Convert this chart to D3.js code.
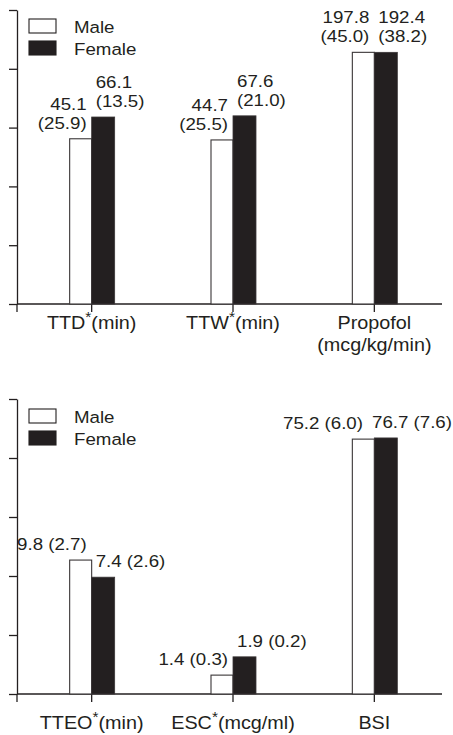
<!DOCTYPE html>
<html>
<head>
<meta charset="utf-8">
<style>
  body { margin: 0; background: #fff; }
  svg { display: block; }
  text { font-family: "Liberation Sans", Arial, sans-serif; fill: #231f20; }
</style>
</head>
<body>
<svg width="453" height="735"></svg>
<script src="https://cdn.jsdelivr.net/npm/d3@7"></script>
<script>

// top panel
var topCats = ["TTD", "TTW", "Propofol"];
var topMale = [2.81, 2.79, 4.28];      // bar heights in axis units (axis is unlabelled)
var topFemale = [3.18, 3.20, 4.28];
var topMaleText = [["45.1", "(25.9)"], ["44.7", "(25.5)"], ["197.8", "(45.0)"]];
var topFemaleText = [["66.1", "(13.5)"], ["67.6", "(21.0)"], ["192.4", "(38.2)"]];
var topCatLabels = [["TTD", "*", "(min)"], ["TTW", "*", "(min)"], ["Propofol", "", "", "(mcg/kg/min)"]];

// bottom panel
var botCats = ["TTEO", "ESC", "BSI"];
var botMale = [2.27, 0.32, 4.32];
var botFemale = [1.98, 0.63, 4.34];
var botMaleText = [["9.8 (2.7)"], ["1.4 (0.3)"], ["75.2 (6.0)"]];
var botFemaleText = [["7.4 (2.6)"], ["1.9 (0.2)"], ["76.7 (7.6)"]];
var botCatLabels = [["TTEO", "*", "(min)"], ["ESC", "*", "(mcg/ml)"], ["BSI", "", ""]];

var yTicks = [0, 1, 2, 3, 4, 5];
var legendNames = ["Male", "Female"];

var ink = "#231f20";
var sx = 1.1; // source text is a bit wider than Arial
var W = 453;

var svg = d3.select("svg");

function stretchedText(g, x, y, size, anchor) {
  return g.append("text")
      .attr("transform", "translate(" + x + "," + y + ") scale(" + sx + ",1)")
      .attr("font-size", size)
      .attr("text-anchor", anchor || "start");
}

function place(t, x, y) {
  t.attr("transform", "translate(" + x + "," + y + ") scale(" + sx + ",1)");
}

function panel(opt) {
  var g = svg.append("g");

  var x = d3.scaleBand().domain(opt.cats).range([21, 445]);
  var y = d3.scaleLinear().domain([0, 5]).range([opt.base, opt.top]);
  var bw = 22;

  // y axis
  g.append("g")
      .attr("transform", "translate(17,0)")
      .call(d3.axisLeft(y).tickValues(yTicks).tickSize(8).tickSizeOuter(0).tickFormat(""))
      .call(function(a) {
        a.selectAll("path, line").attr("stroke", ink).attr("stroke-width", 1.3);
      });

  // x axis
  g.append("line")
      .attr("x1", 17).attr("x2", 442)
      .attr("y1", opt.base).attr("y2", opt.base)
      .attr("stroke", ink).attr("stroke-width", 1.3);
  var tx = [17].concat(opt.cats.map(function(c) { return x(c) + x.bandwidth() / 2; }));
  g.selectAll(".xt").data(tx).enter().append("line")
      .attr("x1", function(d) { return d; }).attr("x2", function(d) { return d; })
      .attr("y1", opt.base).attr("y2", opt.base + 8)
      .attr("stroke", ink).attr("stroke-width", 1.3);

  function cx(i) { return x(opt.cats[i]) + x.bandwidth() / 2; }

  // bars
  g.selectAll(".m").data(opt.male).enter().append("rect")
      .attr("x", function(d, i) { return cx(i) - bw; })
      .attr("y", function(d) { return y(d); })
      .attr("width", bw)
      .attr("height", function(d) { return opt.base - y(d); })
      .attr("fill", "#fff").attr("stroke", "#3a3637").attr("stroke-width", 1.1);
  g.selectAll(".f").data(opt.female).enter().append("rect")
      .attr("x", function(d, i) { return cx(i); })
      .attr("y", function(d) { return y(d); })
      .attr("width", bw + 1)
      .attr("height", function(d) { return opt.base - y(d); })
      .attr("fill", ink).attr("stroke", "#3a3637").attr("stroke-width", 0.8);

  // value labels: female ones start right of the tick (kept inside the page),
  // male ones end left of it and step aside when they share a line
  opt.cats.forEach(function(c, i) {
    var fl = opt.femaleText[i], ml = opt.maleText[i];
    var fLeft = [];
    fl.forEach(function(s, j) {
      var yy = y(opt.female[i]) - 10 - (fl.length - 1 - j) * 19;
      var t = stretchedText(g, 0, yy, 17, "start").text(s);
      var w = t.node().getComputedTextLength() * sx;
      var x0 = Math.min(cx(i) + 4, W - 1 - w);
      place(t, x0, yy);
      fLeft.push({y: yy, x: x0});
    });
    ml.forEach(function(s, j) {
      var yy = y(opt.male[i]) - 10 - (ml.length - 1 - j) * 19;
      var xe = cx(i) - 5;
      fLeft.forEach(function(f) {
        if (Math.abs(f.y - yy) < 14) xe = Math.min(xe, f.x - 9);
      });
      stretchedText(g, xe, yy, 17, "end").text(s);
    });
  });

  // category labels
  opt.catLabels.forEach(function(l, i) {
    var t = stretchedText(g, cx(i), opt.base + opt.labelDy, 18, "middle");
    t.append("tspan").text(l[0]);
    if (l[1]) {
      t.append("tspan").attr("font-size", 14).attr("dy", -7).text(l[1]);
      t.append("tspan").attr("dy", 7).text(l[2]);
    }
    if (l[3]) {
      stretchedText(g, cx(i), opt.base + opt.labelDy + 22, 18, "middle").text(l[3]);
    }
  });

  // legend
  legendNames.forEach(function(n, i) {
    var ly = opt.legendY + i * 22;
    g.append("rect")
        .attr("x", 29).attr("y", ly).attr("width", 27).attr("height", 14)
        .attr("fill", i ? ink : "#fff").attr("stroke", ink).attr("stroke-width", 1.1);
    stretchedText(g, 74, ly + 14, 17).text(n);
  });
}

panel({
  cats: topCats, male: topMale, female: topFemale,
  maleText: topMaleText, femaleText: topFemaleText, catLabels: topCatLabels,
  base: 304, top: 10, labelDy: 25, legendY: 19
});

panel({
  cats: botCats, male: botMale, female: botFemale,
  maleText: botMaleText, femaleText: botFemaleText, catLabels: botCatLabels,
  base: 694, top: 399, labelDy: 35, legendY: 409
});

</script>
</body>
</html>
